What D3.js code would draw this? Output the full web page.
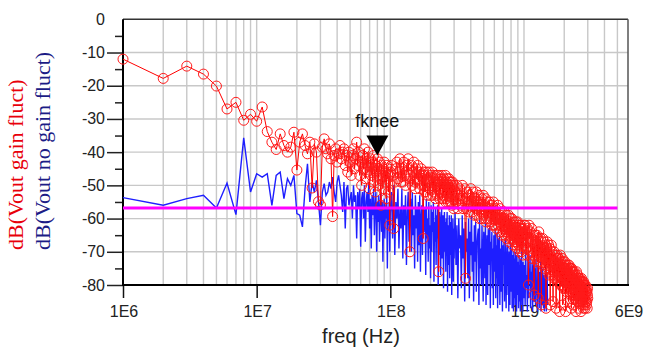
<!DOCTYPE html>
<html><head><meta charset="utf-8">
<script src="https://cdn.jsdelivr.net/npm/d3@7"></script>
<style>body{margin:0;background:#fff}svg{display:block}</style>
</head><body><svg id="c" width="646" height="347"></svg>
<script>
// ---- data (dB values) ----
// 1..100 MHz, 1 MHz bins
const redLow = [-12,-17.8,-14.1,-16.5,-20.1,-27,-25,-30.4,-28.6,-30.7,
-26.4,-33.8,-37,-39.2,-34.5,-38,-40,-38.5,-34,-45.4,
-37,-34.5,-38,-40.5,-37,-50.8,-37.5,-40,-54.9,-55.9,
-38.5,-36,-39,-40.5,-37.5,-42,-59.4,-41,-39,-43,
-40.5,-38,-42,-40,-39,-44,-41,-46,-40,-43,
-47,-41,-39,-45,-42,-37,-44,-40,-47,-43,
-50,-41,-45,-39,-48,-42,-46,-40,-44,-51,
-42,-47,-43,-49,-41,-45,-52,-44,-46,-42,
-50,-45,-43,-48,-56,-44,-47,-51,-45,-43,
-49,-46,-54,-44,-48,-45,-52,-47,-62,-46];
const blueLow = [-53.7,-56,-54,-53,-56.8,-49.3,-58.8,-35.7,-52,-46.5,
-47.5,-46.5,-56,-47,-46,-54,-48,-50,-47,-58.5,
-59,-62.5,-51,-43.5,-55,-49,-52,-48.5,-55,-62,
-52,-49.5,-53,-52,-49,-51,-47.5,-52,-55,-49,
-47,-50,-53,-58,-49,-63,-51,-50,-56,-54,
-52,-60,-50,-55,-53,-66,-52,-57,-51,-68.5,
-54,-52,-60,-50,-67,-55,-52,-58,-49,-63,
-54,-69,-53,-59,-51,-65,-56,-52,-70,-55,
-61,-53,-67,-57,-52,-64,-55,-73,-58,-54,
-66,-56,-60,-53,-75,-57,-62,-55,-70,-58];
// 102..300 MHz, 2 MHz bins
const redA = [-44,-47,-63,-49,-45,-43,-48,-46,-42,-49,
-45,-49,-43,-47,-50,-44,-46,-42,-48,-70,
-47,-44,-50,-46,-43,-49,-51,-45,-48,-44,
-49,-46,-51,-47,-45,-50,-47,-66,-46,-52,
-47,-52,-46,-49,-53,-48,-46,-51,-49,-53,
-47,-50,-46,-53,-48,-52,-49,-47,-54,-49,
-53,-48,-47,-51,-76,-47,-54,-49,-52,-48,
-51,-47,-54,-49,-53,-48,-52,-50,-47,-55,
-49,-54,-48,-52,-55,-50,-48,-53,-49,-55,
-51,-49,-55,-50,-56,-49,-53,-51,-57,-50];
const blueA = [-52,-66,-50,-71,-55,-60,-51,-69,-57,-63,
-51,-72,-56,-62,-53,-74,-58,-52,-67,-61,
-54,-70,-52,-65,-59,-75,-53,-63,-57,-73,
-55,-68,-53,-76,-60,-56,-71,-54,-64,-58,
-57,-77,-54,-66,-60,-73,-55,-69,-62,-78,
-56,-70,-58,-64,-55,-79,-61,-67,-57,-74,
-59,-66,-56,-80,-62,-71,-58,-65,-77,-60,
-57,-72,-63,-59,-81,-64,-58,-70,-61,-76,
-60,-67,-58,-82,-65,-62,-74,-59,-78,-66,
-61,-71,-59,-83,-64,-68,-60,-79,-63,-72];
// 305..1000 MHz, 5 MHz bins
const redB = [-52,-55,-50,-57,-53,-51,-56,-54,-50,-57,
-54,-51,-78,-57,-52,-55,-58,-53,-56,-51,
-55,-58,-52,-56,-59,-54,-57,-52,-59,-55,
-56,-53,-60,-55,-58,-60,-54,-57,-53,-59,
-56,-60,-54,-61,-57,-55,-60,-57,-59,-55,
-58,-56,-61,-57,-62,-56,-60,-55,-62,-58,
-58,-62,-57,-60,-63,-59,-56,-62,-60,-61,
-60,-57,-64,-59,-62,-65,-58,-61,-60,-64,
-61,-58,-63,-65,-60,-62,-59,-66,-62,-64,
-62,-65,-59,-63,-67,-61,-64,-60,-66,-63,
-64,-60,-66,-62,-68,-63,-65,-61,-67,-64,
-62,-67,-64,-61,-68,-65,-63,-69,-61,-66,
-65,-62,-68,-64,-70,-63,-67,-62,-69,-65,
-64,-70,-63,-67,-66,-71,-63,-68,-65,-62];
const blueB = [-58,-74,-62,-84,-60,-69,-65,-81,-59,-72,
-63,-85,-61,-70,-66,-78,-60,-84,-64,-71,
-59,-76,-67,-85,-62,-73,-61,-82,-68,-65,
-63,-86,-60,-75,-69,-80,-62,-71,-85,-64,
-66,-78,-61,-86,-70,-65,-83,-63,-74,-68,
-62,-87,-67,-72,-64,-81,-69,-86,-65,-76,
-70,-63,-84,-68,-78,-64,-87,-71,-66,-80,
-65,-86,-72,-69,-82,-66,-77,-88,-68,-74,
-71,-67,-85,-73,-79,-66,-87,-70,-83,-69,
-68,-80,-74,-88,-70,-76,-86,-67,-82,-72,
-75,-69,-87,-71,-81,-73,-88,-70,-78,-84,
-72,-86,-70,-79,-75,-88,-71,-83,-76,-74,
-73,-87,-77,-71,-85,-74,-80,-88,-72,-78,
-76,-70,-86,-79,-74,-88,-73,-82,-77,-84];
// 1010..3000 MHz, 10 MHz bins
const redC = [-65,-62,-69,-64,-71,-63,-67,-80,-62,-66,
-64,-70,-66,-63,-72,-67,-65,-71,-83,-68,
-67,-65,-72,-69,-65,-73,-66,-84,-64,-70,
-68,-73,-66,-71,-86,-67,-72,-66,-74,-69,
-70,-67,-75,-72,-68,-87,-69,-74,-67,-73,
-71,-75,-68,-77,-73,-69,-86,-72,-76,-68,
-72,-70,-77,-74,-85,-71,-76,-70,-78,-73,
-74,-71,-78,-87,-72,-76,-71,-79,-75,-72,
-76,-72,-79,-74,-88,-75,-71,-80,-77,-73,
-74,-80,-72,-78,-86,-76,-73,-81,-79,-74,
-77,-73,-81,-75,-88,-79,-74,-82,-76,-75,
-75,-81,-74,-79,-85,-77,-74,-82,-80,-75,
-78,-75,-83,-80,-76,-87,-75,-82,-77,-76,
-79,-76,-83,-81,-86,-77,-83,-76,-80,-84,
-78,-84,-77,-82,-88,-79,-76,-83,-81,-78,
-80,-77,-85,-83,-78,-87,-78,-84,-81,-79,
-82,-78,-85,-80,-84,-79,-88,-81,-78,-84,
-79,-85,-82,-79,-86,-83,-80,-87,-79,-84,
-82,-80,-86,-84,-81,-87,-83,-80,-85,-82,
-84,-81,-86,-82,-85,-82,-87,-83,-81,-84];
const blueC = [-74,-86,-70,-81,-77,-88,-72,-84,-75,-79,
-71,-87,-76,-82,-73,-88,-78,-74,-85,-80,
-75,-86,-72,-83,-79,-88,-74,-81,-77,-87,
-76,-84,-73,-88,-80,-78,-86,-75,-82,-87,
-77,-88,-79,-85,-74,-83,-88,-81,-76,-86];
// frequency bins (MHz)
const freqLow = d3.range(1, 101);
const freqA = d3.range(102, 301, 2);
const freqB = d3.range(305, 1001, 5);
const freqC = d3.range(1010, 3001, 10);
const noiseFloor = -56.8;
const floorRange = [1e6, 5e9];
const kneeFreq = 8e7, kneeDb = -41;
const xTicks = [1e6, 1e7, 1e8, 1e9, 6e9];
const xTickLabels = ["1E6", "1E7", "1E8", "1E9", "6E9"];
const yTicks = [0, -10, -20, -30, -40, -50, -60, -70, -80];

function build(fs, vs) { return fs.map((f, i) => ({f: f * 1e6, v: vs[i]})).filter(d => d.v !== undefined); }
const redData = [].concat(build(freqLow, redLow), build(freqA, redA), build(freqB, redB), build(freqC, redC));
const blueData = [].concat(build(freqLow, blueLow), build(freqA, blueA), build(freqB, blueB), build(freqC.slice(0, blueC.length), blueC));

const svg = d3.select("#c");
svg.append("rect").attr("width", 646).attr("height", 347).attr("fill", "#fff");
const L = 123, R = 628, T = 19.3, B = 285;
const x = d3.scaleLog().domain([1e6, 6e9]).range([L, R]);
const y = d3.scaleLinear().domain([-80, 0]).range([B, T]);

// grid
const vgrid = [];
for (let d = 6; d <= 9; d++) for (let k = 1; k <= 9; k++) { const v = k * Math.pow(10, d); if (v > 1e6 && v < 6e9) vgrid.push(v); }
svg.append("g").selectAll("line").data(vgrid).join("line")
  .attr("x1", d => x(d)).attr("x2", d => x(d)).attr("y1", T).attr("y2", B)
  .attr("stroke", "#c8c8c8").attr("stroke-width", 1.4);
svg.append("g").selectAll("line").data(d3.range(-70, 0, 10)).join("line")
  .attr("x1", L).attr("x2", R).attr("y1", d => y(d)).attr("y2", d => y(d))
  .attr("stroke", "#c8c8c8").attr("stroke-width", 1.4);
// frame
svg.append("line").attr("x1", L).attr("x2", R).attr("y1", T).attr("y2", T).attr("stroke", "#333").attr("stroke-width", 1.5);
svg.append("line").attr("x1", R).attr("x2", R).attr("y1", T).attr("y2", B).attr("stroke", "#555").attr("stroke-width", 1.5);

// axes
const yAxis = d3.axisLeft(y).tickValues(d3.range(-80, 0, 10)).tickSize(16).tickFormat("");
const yg = svg.append("g").attr("transform", `translate(${L},0)`).call(yAxis);
yg.select(".domain").remove();
yg.selectAll(".tick line").attr("stroke", "#222").attr("stroke-width", 1.5);
const yMinor = d3.axisLeft(y).tickValues(d3.range(-75, 0, 10)).tickSize(8).tickFormat("");
const ymg = svg.append("g").attr("transform", `translate(${L},0)`).call(yMinor);
ymg.select(".domain").remove();
ymg.selectAll(".tick line").attr("stroke", "#222").attr("stroke-width", 1.5);
svg.append("g").selectAll("text").data(yTicks).join("text")
  .attr("x", 105).attr("y", d => y(d) + 5.5).attr("text-anchor", "end")
  .attr("font-family", "Liberation Sans, Arial, sans-serif").attr("font-size", 16).attr("fill", "#222")
  .text(d => String(d));
const xAxis = d3.axisBottom(x).tickValues(xTicks.slice(0, 4)).tickSize(13).tickFormat("");
const xg = svg.append("g").attr("transform", `translate(0,${B})`).call(xAxis);
xg.select(".domain").remove();
xg.selectAll(".tick line").attr("stroke", "#111").attr("stroke-width", 1.5);
svg.append("g").selectAll("text").data(xTicks).join("text")
  .attr("x", d => x(d) + 1).attr("y", 317).attr("text-anchor", "middle")
  .attr("font-family", "Liberation Sans, Arial, sans-serif").attr("font-size", 16).attr("fill", "#222")
  .text((d, i) => xTickLabels[i]);
svg.append("line").attr("x1", L).attr("x2", L).attr("y1", T).attr("y2", B + 1).attr("stroke", "#000").attr("stroke-width", 2);
svg.append("line").attr("x1", L).attr("x2", R + 1).attr("y1", B).attr("y2", B).attr("stroke", "#000").attr("stroke-width", 2);

// titles
svg.append("text").attr("x", 361).attr("y", 343).attr("text-anchor", "middle")
  .attr("font-family", "Liberation Sans, Arial, sans-serif").attr("font-size", 20).attr("fill", "#222").text("freq (Hz)");
svg.append("text").attr("transform", "translate(23,250) rotate(-90)")
  .attr("font-family", "Liberation Serif, Times New Roman, serif").attr("font-size", 22).attr("fill", "#e8000a").text("dB(Vout gain fluct)");
svg.append("text").attr("transform", "translate(50,250) rotate(-90)")
  .attr("font-family", "Liberation Serif, Times New Roman, serif").attr("font-size", 22).attr("fill", "#1c1c86").text("dB(Vout no gain fluct)");

// series
const line = d3.line().x(d => x(d.f)).y(d => y(d.v));
svg.append("path").datum(blueData).attr("d", line).attr("fill", "none").attr("stroke", "#1e1eff").attr("stroke-width", 1.4);
svg.append("path").datum(redData).attr("d", line).attr("fill", "none").attr("stroke", "#ff0000").attr("stroke-width", 1);
svg.append("g").selectAll("circle").data(redData).join("circle")
  .attr("cx", d => x(d.f)).attr("cy", d => y(d.v)).attr("r", 5)
  .attr("fill", "none").attr("stroke", "#ff1a1a").attr("stroke-width", 1);
svg.append("line").attr("x1", x(floorRange[0])).attr("x2", x(floorRange[1]))
  .attr("y1", y(noiseFloor)).attr("y2", y(noiseFloor)).attr("stroke", "#ff00ff").attr("stroke-width", 3);

// fknee marker
const kx = x(kneeFreq), ky = y(kneeDb);
svg.append("path").attr("d", `M${kx - 11},${ky - 20}L${kx + 11},${ky - 20}L${kx},${ky}Z`).attr("fill", "#000");
svg.append("text").attr("x", kx).attr("y", ky - 28).attr("text-anchor", "middle")
  .attr("font-family", "Liberation Sans, Arial, sans-serif").attr("font-size", 18).attr("fill", "#111").text("fknee");
</script></body></html>
